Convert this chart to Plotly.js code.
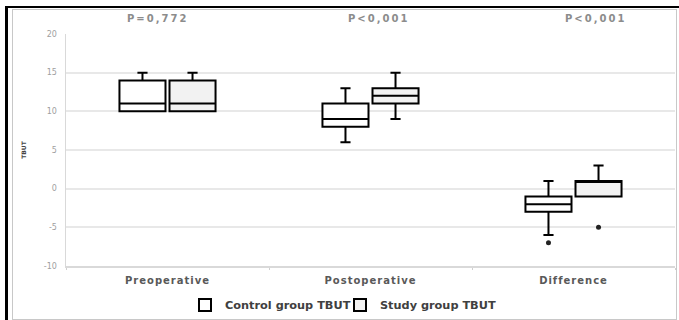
<!DOCTYPE html>
<html><head><meta charset="utf-8">
<script src="https://cdn.plot.ly/plotly-3.0.1.min.js"></script>
<style>
html,body{margin:0;padding:0;background:#fff;}
#wrap{position:relative;width:679px;height:320px;overflow:hidden;}
#chart{position:absolute;left:0;top:0;width:679px;height:320px;}
#frame{position:absolute;left:5px;top:6px;width:674px;height:314px;border-left:3px solid #000;border-top:2px solid #000;box-sizing:border-box;pointer-events:none;}
#inner{position:absolute;left:12px;top:9px;width:665px;height:311px;border:1px solid #c8c8c8;box-sizing:border-box;pointer-events:none;}
.xtick text {letter-spacing:1px;}
.annotation-text{letter-spacing:2px;}
</style></head>
<body>
<div id="wrap"><div id="chart"></div><div id="inner"></div><div id="frame"></div></div>
<script>
const categories = ['Preoperative', 'Postoperative', 'Difference'];
const seriesNames = ['Control group TBUT', 'Study group TBUT'];
const controlLower  = [10, 6, -6];
const controlQ1     = [10, 8, -3];
const controlMedian = [11, 9, -2];
const controlQ3     = [14, 11, -1];
const controlUpper  = [15, 13, 1];
const studyLower    = [10, 9, -1];
const studyQ1       = [10, 11, -1];
const studyMedian   = [11, 12, 1];
const studyQ3       = [14, 13, 1];
const studyUpper    = [15, 15, 3];
const controlOutlierCats = ['Difference'];
const controlOutliers    = [-7];
const studyOutlierCats   = ['Difference'];
const studyOutliers      = [-5];
const pValues = ['P=0,772', 'P<0,001', 'P<0,001'];
const yTickVals = [-10, -5, 0, 5, 10, 15, 20];
const yTickText = ['-10', '-5', '0', '5', '10', '15', '20'];
const yTitle = 'TBUT';

const FONT = 'DejaVu Sans, sans-serif';
const GAP = 0.507, GROUPGAP = 0.08;

const boxStyle = {type: 'box', line: {color: '#000', width: 2}, whiskerwidth: 0.22, boxpoints: false, hoverinfo: 'skip'};
const traces = [
  Object.assign({}, boxStyle, {name: seriesNames[0], x: categories, q1: controlQ1, median: controlMedian, q3: controlQ3,
    lowerfence: controlLower, upperfence: controlUpper, fillcolor: '#ffffff', offsetgroup: 'c', alignmentgroup: 'a', legend: 'legend'}),
  Object.assign({}, boxStyle, {name: seriesNames[1], x: categories, q1: studyQ1, median: studyMedian, q3: studyQ3,
    lowerfence: studyLower, upperfence: studyUpper, fillcolor: '#f2f2f2', offsetgroup: 's', alignmentgroup: 'a', legend: 'legend2'}),
  {type: 'scatter', mode: 'markers', x: controlOutlierCats, y: controlOutliers, marker: {color: '#222', size: 5},
    showlegend: false, offsetgroup: 'c', alignmentgroup: 'b', orientation: 'v', hoverinfo: 'skip'},
  {type: 'scatter', mode: 'markers', x: studyOutlierCats, y: studyOutliers, marker: {color: '#222', size: 5},
    showlegend: false, offsetgroup: 's', alignmentgroup: 'b', orientation: 'v', hoverinfo: 'skip'}
];

const xShifts = [-10, 8, 22];
const annotations = categories.map((c, i) => ({
  x: c, xref: 'x', y: 1.065, yref: 'paper', yanchor: 'middle', xanchor: 'center', xshift: xShifts[i],
  text: pValues[i], showarrow: false, font: {family: FONT, size: 10, color: '#8c8c8c', weight: 'bold'}
}));

const legendFont = {family: FONT, size: 11.3, color: '#404040', weight: 'bold'};
const legendBase = {orientation: 'h', xref: 'container', yref: 'container', xanchor: 'left', yanchor: 'middle',
  y: 0.047, font: legendFont, itemwidth: 30, bgcolor: 'rgba(0,0,0,0)'};

const layout = {
  width: 679, height: 320,
  margin: {l: 66, r: 4, t: 34, b: 54},
  paper_bgcolor: 'rgba(0,0,0,0)', plot_bgcolor: '#fff',
  boxmode: 'group', boxgap: GAP, boxgroupgap: GROUPGAP,
  scattermode: 'group', scattergap: GAP,
  font: {family: FONT},
  xaxis: {type: 'category', categoryorder: 'array', categoryarray: categories,
    showline: true, linecolor: '#d9d9d9', linewidth: 1.5, showgrid: false, zeroline: false,
    ticks: 'outside', tickson: 'boundaries', ticklen: 2, tickcolor: '#d0d0d0', ticklabelstandoff: 4,
    tickfont: {family: FONT, size: 10, color: '#595959', weight: 'bold'}},
  yaxis: {range: [-10, 20], tickmode: 'array', tickvals: yTickVals, ticktext: yTickText,
    showgrid: true, gridcolor: '#e8e8e8', gridwidth: 2,
    zeroline: false, showline: true, linecolor: '#d9d9d9', linewidth: 1.5, ticks: '', ticklabelstandoff: 6,
    tickfont: {family: FONT, size: 8, color: '#a0a0a0'},
    title: {text: yTitle, standoff: 16, font: {family: FONT, size: 6, color: '#444', weight: 'bold'}}},
  legend: Object.assign({}, legendBase, {x: 0.2725}),
  legend2: Object.assign({}, legendBase, {x: 0.5007}),
  annotations: annotations,
  showlegend: true
};

Plotly.newPlot('chart', traces, layout, {staticPlot: true, displayModeBar: false});
</script>
</body></html>
